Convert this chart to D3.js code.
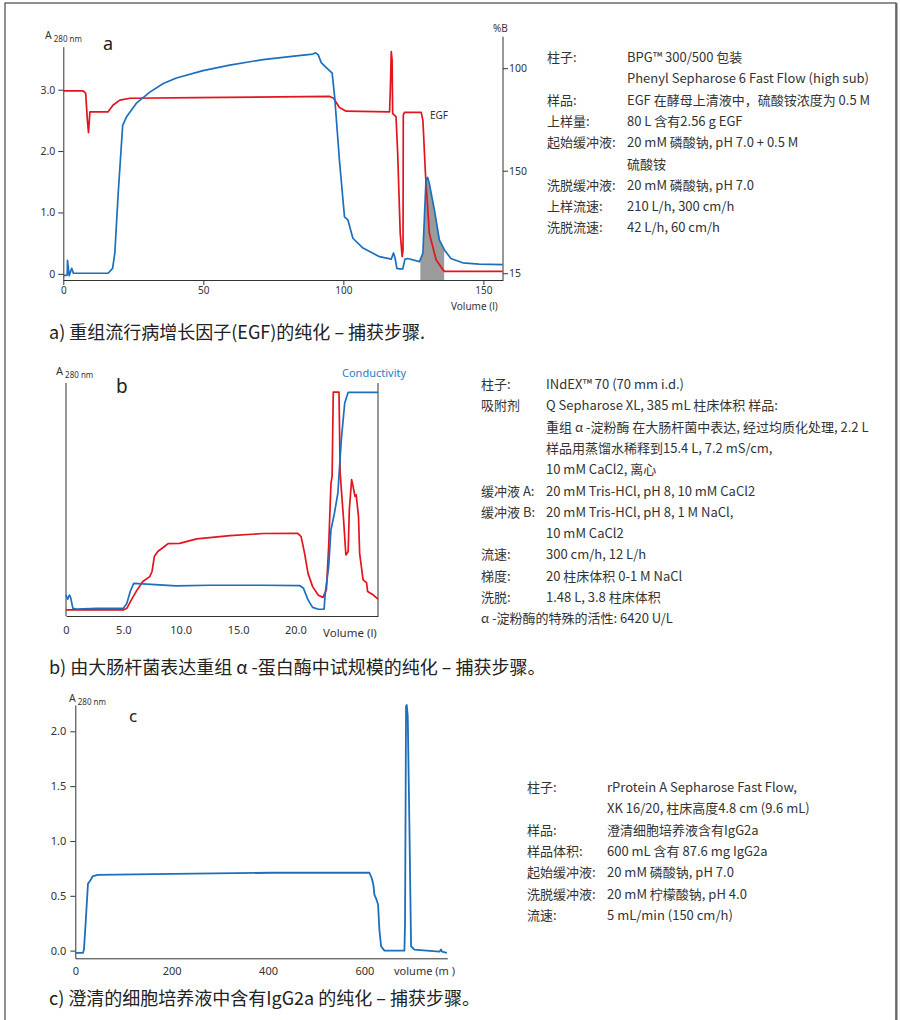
<!DOCTYPE html>
<html>
<head>
<meta charset="utf-8">
<script src="https://cdn.jsdelivr.net/npm/d3@7"></script>
<style>
  body { margin: 0; background: #fff; }
  svg { display: block; font-family: "Noto Sans", "Noto Sans CJK SC", sans-serif; }
  .ax line, .ax path { stroke: #333; }
  .ax text { fill: #333; font-size: 10.5px; font-family: "Noto Sans", sans-serif; }
  .info { fill: #333; font-size: 13px; font-family: "Noto Sans CJK SC", sans-serif; }
  .cap { fill: #222; font-size: 18px; font-family: "Noto Sans CJK SC", sans-serif; }
</style>
</head>
<body>
<div id="chart"></div>
<script>
// ---- data ----

// panel a : volume (l) vs A280 (blue) and %B trace (red, drawn on the A280 scale)
var uvA = [[0,-0.03],[1.4,-0.02],[1.5,0.22],[2.1,-0.03],[3.0,0.09],[3.6,0.01],[16.0,0.01],[17.6,0.09],
  [18.4,0.34],[19.6,1.31],[21.2,2.42],[22.6,2.56],[26.1,2.78],[30.9,2.96],[35.7,3.10],[40.4,3.19],
  [49.9,3.31],[59.4,3.40],[71.3,3.49],[83.2,3.55],[89.1,3.58],[90.1,3.60],[91.0,3.57],[92.1,3.44],
  [93.9,3.36],[96.0,3.27],[96.9,2.88],[98.6,1.85],[100.4,0.93],[101.6,0.88],[103.4,0.58],[107.0,0.42],
  [112.9,0.28],[117.1,0.24],[117.9,0.34],[118.5,0.25],[119.1,0.09],[120.0,0.08],[121.2,0.08],[122.0,0.24],
  [123.0,0.25],[127.2,0.20],[128.4,0.34],[129.5,1.53],[130.1,1.57],[130.7,1.47],[132.5,1.04],[134.3,0.55],
  [136.1,0.39],[138.4,0.25],[142.6,0.18],[148.5,0.16],[156.9,0.15]];
var condA = [[0,2.98],[7.1,2.98],[8.0,2.94],[8.6,2.50],[9.0,2.30],[9.3,2.50],[9.5,2.64],[16.0,2.64],
  [17.8,2.75],[20.2,2.83],[23.8,2.86],[47.5,2.87],[95.1,2.89],[96.5,2.86],[98.6,2.71],[101.0,2.65],
  [116.5,2.64],[116.8,3.05],[117.1,3.62],[117.4,3.48],[117.6,2.61],[118.8,2.56],[119.4,1.96],[120.3,0.66],
  [121.0,0.28],[121.3,0.39],[121.4,2.59],[121.8,2.63],[127.8,2.63],[128.4,2.50],[129.3,1.64],[130.7,0.66],
  [133.1,0.23],[135.5,0.07],[136.1,0.04],[156.9,0.04]];
var egfRange = [127.5, 136];
var xTicksA = [0, 50, 100, 150];
var yTicksA = [0, 1, 2, 3];
var yLabelsA = ["0", "1.0", "2.0", "3.0"];
var bTickAt = [3.35, 1.68, 0.01];
var bTickLabels = ["100", "150", "15"];

// panel b : volume (l) vs relative signal (0-100)
var condB = [[0,9.0],[0.15,7.2],[0.3,9.0],[0.4,8.0],[0.6,3.3],[0.9,3.0],[2.7,3.3],[5.0,3.3],[5.3,5.4],
  [5.6,10.5],[5.9,14.0],[6.7,13.8],[9.6,12.9],[12.5,13.2],[17.2,13.2],[20.4,13.0],[20.7,11.9],[21.1,6.9],
  [21.5,3.7],[22.0,2.9],[22.5,2.9],[22.6,9.7],[22.9,21.2],[23.1,37.0],[23.4,44.1],[23.7,52.7],[24.0,75.6],
  [24.3,91.4],[24.6,96.0],[27.2,96.0]];
var uvB = [[0,2.6],[5.0,2.6],[5.3,3.3],[5.7,6.9],[6.2,11.2],[6.7,14.8],[7.3,16.9],[7.5,19.1],[7.7,25.5],
  [8.0,27.7],[8.5,29.5],[8.9,31.1],[9.9,31.2],[11.4,33.1],[14.3,34.5],[17.2,35.4],[20.2,35.5],[20.5,34.1],
  [20.8,26.9],[21.1,18.3],[21.5,12.6],[22.0,8.9],[22.4,8.0],[22.7,11.2],[22.9,29.8],[23.1,57.0],[23.2,59.9],
  [23.3,96.1],[23.8,96.1],[23.9,61.3],[24.2,41.3],[24.4,26.2],[24.6,27.7],[24.7,45.6],[24.9,58.5],[25.0,56.3],
  [25.2,51.3],[25.3,52.0],[25.5,42.7],[25.6,26.9],[25.9,15.5],[26.2,14.3],[26.3,10.5],[26.8,9.0],[27.2,7.2]];
var xTicksB = [0, 5, 10, 15, 20];
var xLabelsB = ["0", "5.0", "10.0", "15.0", "20.0"];

// panel c : volume (ml) vs A280
var uvC = [[0,-0.02],[16,-0.02],[18,0.01],[21.4,0.25],[26.3,0.61],[31.1,0.64],[36.6,0.68],[47,0.69],
  [202.5,0.70],[410,0.71],[610.4,0.71],[615.2,0.66],[618.6,0.60],[620.7,0.51],[625.6,0.46],[628.3,0.42],
  [631.1,0.19],[634.6,0.04],[641.5,0.0],[683,0.0],[684.3,0.25],[686.4,2.23],[687.8,2.24],[689.9,2.14],
  [693.3,1.16],[696.8,0.04],[703.7,0.01],[755.5,-0.01],[759,0.01],[761,-0.01],[771,-0.02]];
var xTicksC = [0, 200, 400, 600];
var yTicksC = [0, 0.5, 1, 1.5, 2];

// info tables and captions
var infoA = [["柱子:", "BPG™ 300/500 包装"], ["", "Phenyl Sepharose 6 Fast Flow (high sub)"],
  ["样品:", "EGF 在酵母上清液中，硫酸铵浓度为 0.5 M"], ["上样量:", "80 L 含有2.56 g EGF"],
  ["起始缓冲液:", "20 mM 磷酸钠, pH 7.0 + 0.5 M"], ["", "硫酸铵"], ["洗脱缓冲液:", "20 mM 磷酸钠, pH 7.0"],
  ["上样流速:", "210 L/h, 300 cm/h"], ["洗脱流速:", " 42 L/h, 60 cm/h"]];
var infoB = [["柱子:", "INdEX™ 70 (70 mm i.d.)"], ["吸附剂", "Q Sepharose XL, 385 mL 柱床体积 样品:"],
  ["", "重组 α -淀粉酶 在大肠杆菌中表达, 经过均质化处理, 2.2 L"], ["", "样品用蒸馏水稀释到15.4 L, 7.2 mS/cm,"],
  ["", "10 mM CaCl2, 离心"], ["缓冲液 A:", "20 mM Tris-HCl, pH 8, 10 mM CaCl2"],
  ["缓冲液 B:", "20 mM Tris-HCl, pH 8, 1 M NaCl,"], ["", "10 mM CaCl2"], ["流速:", "300 cm/h, 12 L/h"],
  ["梯度:", "20 柱床体积 0-1 M NaCl"], ["洗脱:", "1.48 L, 3.8 柱床体积"], [" α -淀粉酶的特殊的活性: 6420 U/L", ""]];
var infoC = [["柱子:", "rProtein A Sepharose Fast Flow,"], ["", "XK 16/20, 柱床高度4.8 cm (9.6 mL)"],
  ["样品:", "澄清细胞培养液含有IgG2a"], ["样品体积:", "600 mL 含有 87.6 mg IgG2a"],
  ["起始缓冲液:", "20 mM 磷酸钠, pH 7.0"], ["洗脱缓冲液:", "20 mM 柠檬酸钠, pH 4.0"], ["流速:", "5 mL/min (150 cm/h)"]];
var captions = ["a) 重组流行病增长因子(EGF)的纯化 – 捕获步骤.",
  "b) 由大肠杆菌表达重组 α -蛋白酶中试规模的纯化 – 捕获步骤。",
  "c) 澄清的细胞培养液中含有IgG2a  的纯化 – 捕获步骤。"];

var RED = "#e3141e", BLUE = "#1d6fbd";

var svg = d3.select("#chart").append("svg")
    .attr("width", 900).attr("height", 1020);

// outer frame
svg.append("rect").attr("x", 5).attr("y", 3).attr("width", 891).attr("height", 1040)
    .attr("fill", "none").attr("stroke", "#222").attr("stroke-width", 1);
svg.append("line").attr("x1", 896.5).attr("x2", 896.5).attr("y1", 3).attr("y2", 1020)
    .attr("stroke", "#666").attr("stroke-width", 2);

function line(x, y) {
  return d3.line().x(function(d) { return x(d[0]); }).y(function(d) { return y(d[1]); });
}

function yLabel(g, x, y, big) {
  var t = g.append("text").attr("x", x).attr("y", y).attr("fill", "#333")
      .style("font-size", big ? "11px" : "10.5px");
  t.append("tspan").text("A");
  t.append("tspan").attr("dy", 3).style("font-size", "8px").text(" 280 nm");
}

function info(rows, lx, vx, y0) {
  var g = svg.append("g").attr("class", "info");
  rows.forEach(function(r, i) {
    var y = y0 + i * 21.3;
    g.append("text").attr("x", lx).attr("y", y).text(r[0]);
    g.append("text").attr("x", vx).attr("y", y).text(r[1]);
  });
}

// ---------- panel a ----------
(function() {
  var x = d3.scaleLinear().domain([0, 157]).range([63.3, 503]);
  var y = d3.scaleLinear().domain([-0.1, 3.7]).range([280, 46.7]);
  var g = svg.append("g");

  g.append("clipPath").attr("id", "egf").append("rect")
      .attr("x", x(egfRange[0])).attr("width", x(egfRange[1]) - x(egfRange[0]))
      .attr("y", 0).attr("height", 300);
  g.append("path").datum(uvA)
      .attr("clip-path", "url(#egf)")
      .attr("fill", "#9b9b9b")
      .attr("d", d3.area().x(function(d) { return x(d[0]); })
          .y0(y(-0.1)).y1(function(d) { return y(d[1]); }));

  g.append("g").attr("class", "ax").attr("transform", "translate(0,280)")
      .call(d3.axisBottom(x).tickValues(xTicksA).tickSize(5).tickPadding(2).tickSizeOuter(0))
      .selectAll("text").style("font-size", "10px");
  g.append("g").attr("class", "ax").attr("transform", "translate(63.3,0)")
      .call(d3.axisLeft(y).tickValues(yTicksA).tickSize(5).tickPadding(3).tickSizeOuter(0)
          .tickFormat(function(d, i) { return yLabelsA[i]; }));
  g.append("line").attr("x1", 503).attr("x2", 503).attr("y1", 36.7).attr("y2", 280).attr("stroke", "#333");
  g.append("g").attr("class", "ax").attr("transform", "translate(503,0)")
      .call(d3.axisRight(y).tickValues(bTickAt).tickSize(5).tickPadding(1).tickSizeOuter(0)
          .tickFormat(function(d, i) { return bTickLabels[i]; }))
      .select(".domain").remove();

  g.append("path").datum(condA).attr("fill", "none").attr("stroke", RED).attr("stroke-width", 1.7)
      .attr("stroke-linejoin", "round").attr("d", line(x, y));
  g.append("path").datum(uvA).attr("fill", "none").attr("stroke", BLUE).attr("stroke-width", 1.7)
      .attr("stroke-linejoin", "round").attr("d", line(x, y));

  yLabel(g, 45, 38.5);
  g.append("text").attr("x", 103).attr("y", 50).attr("fill", "#222").style("font-size", "18px").text("a");
  g.append("text").attr("x", 493).attr("y", 31.5).attr("fill", "#333").style("font-size", "10px").text("%B");
  g.append("text").attr("x", 430).attr("y", 119).attr("fill", "#333").style("font-size", "10px").text("EGF");
  g.append("text").attr("x", 451).attr("y", 310).attr("fill", "#333").style("font-size", "10px").text("Volume (l)");
})();

// ---------- panel b ----------
(function() {
  var x = d3.scaleLinear().domain([0, 27.2]).range([66, 378]);
  var y = d3.scaleLinear().domain([0, 100]).range([616, 383]);
  var g = svg.append("g");

  g.append("g").attr("class", "ax").attr("transform", "translate(0,616)")
      .call(d3.axisBottom(x).tickValues(xTicksB).tickSize(0).tickPadding(10).tickSizeOuter(0)
          .tickFormat(function(d, i) { return xLabelsB[i]; }))
      .selectAll("text").style("font-size", "11px");
  g.append("line").attr("x1", 66).attr("x2", 66).attr("y1", 383).attr("y2", 616).attr("stroke", "#333");
  g.append("line").attr("x1", 378).attr("x2", 378).attr("y1", 383).attr("y2", 616).attr("stroke", "#333");

  g.append("path").datum(uvB).attr("fill", "none").attr("stroke", RED).attr("stroke-width", 1.7)
      .attr("stroke-linejoin", "round").attr("d", line(x, y));
  g.append("path").datum(condB).attr("fill", "none").attr("stroke", BLUE).attr("stroke-width", 1.7)
      .attr("stroke-linejoin", "round").attr("d", line(x, y));

  yLabel(g, 56, 375, true);
  g.append("text").attr("x", 116).attr("y", 393).attr("fill", "#222").style("font-size", "19px").text("b");
  g.append("text").attr("x", 342).attr("y", 377).attr("fill", "#2a7dc8").style("font-size", "11px").text("Conductivity");
  g.append("text").attr("x", 323).attr("y", 637).attr("fill", "#333").style("font-size", "11.5px").text("Volume (l)");
})();

// ---------- panel c ----------
(function() {
  var x = d3.scaleLinear().domain([0, 772]).range([75.3, 447.3]);
  var y = d3.scaleLinear().domain([-0.07, 2.24]).range([958.3, 705]);
  var g = svg.append("g");

  g.append("g").attr("class", "ax").attr("transform", "translate(0,958.3)")
      .call(d3.axisBottom(x).tickValues(xTicksC).tickSize(0).tickPadding(9).tickSizeOuter(0))
      .selectAll("text").style("font-size", "11px");
  g.append("g").attr("class", "ax").attr("transform", "translate(75.3,0)")
      .call(d3.axisLeft(y).tickValues(yTicksC).tickSize(5).tickPadding(4).tickSizeOuter(0)
          .tickFormat(d3.format(".1f")))
      .selectAll("text").style("font-size", "11px");

  g.append("path").datum(uvC).attr("fill", "none").attr("stroke", BLUE).attr("stroke-width", 1.8)
      .attr("stroke-linejoin", "round").attr("d", line(x, y));

  yLabel(g, 69, 702);
  g.append("text").attr("x", 129).attr("y", 722).attr("fill", "#222").style("font-size", "17px").text("c");
  g.append("text").attr("x", 394).attr("y", 975).attr("fill", "#333").style("font-size", "11px").text("volume (m )");
})();

// ---------- text blocks ----------
info(infoA, 547, 627, 62);
info(infoB, 481, 546, 389);
info(infoC, 527, 607, 792);

var capY = [339, 674, 1005];
captions.forEach(function(c, i) {
  svg.append("text").attr("class", "cap").attr("x", 49).attr("y", capY[i]).text(c);
});
</script>
</body>
</html>
